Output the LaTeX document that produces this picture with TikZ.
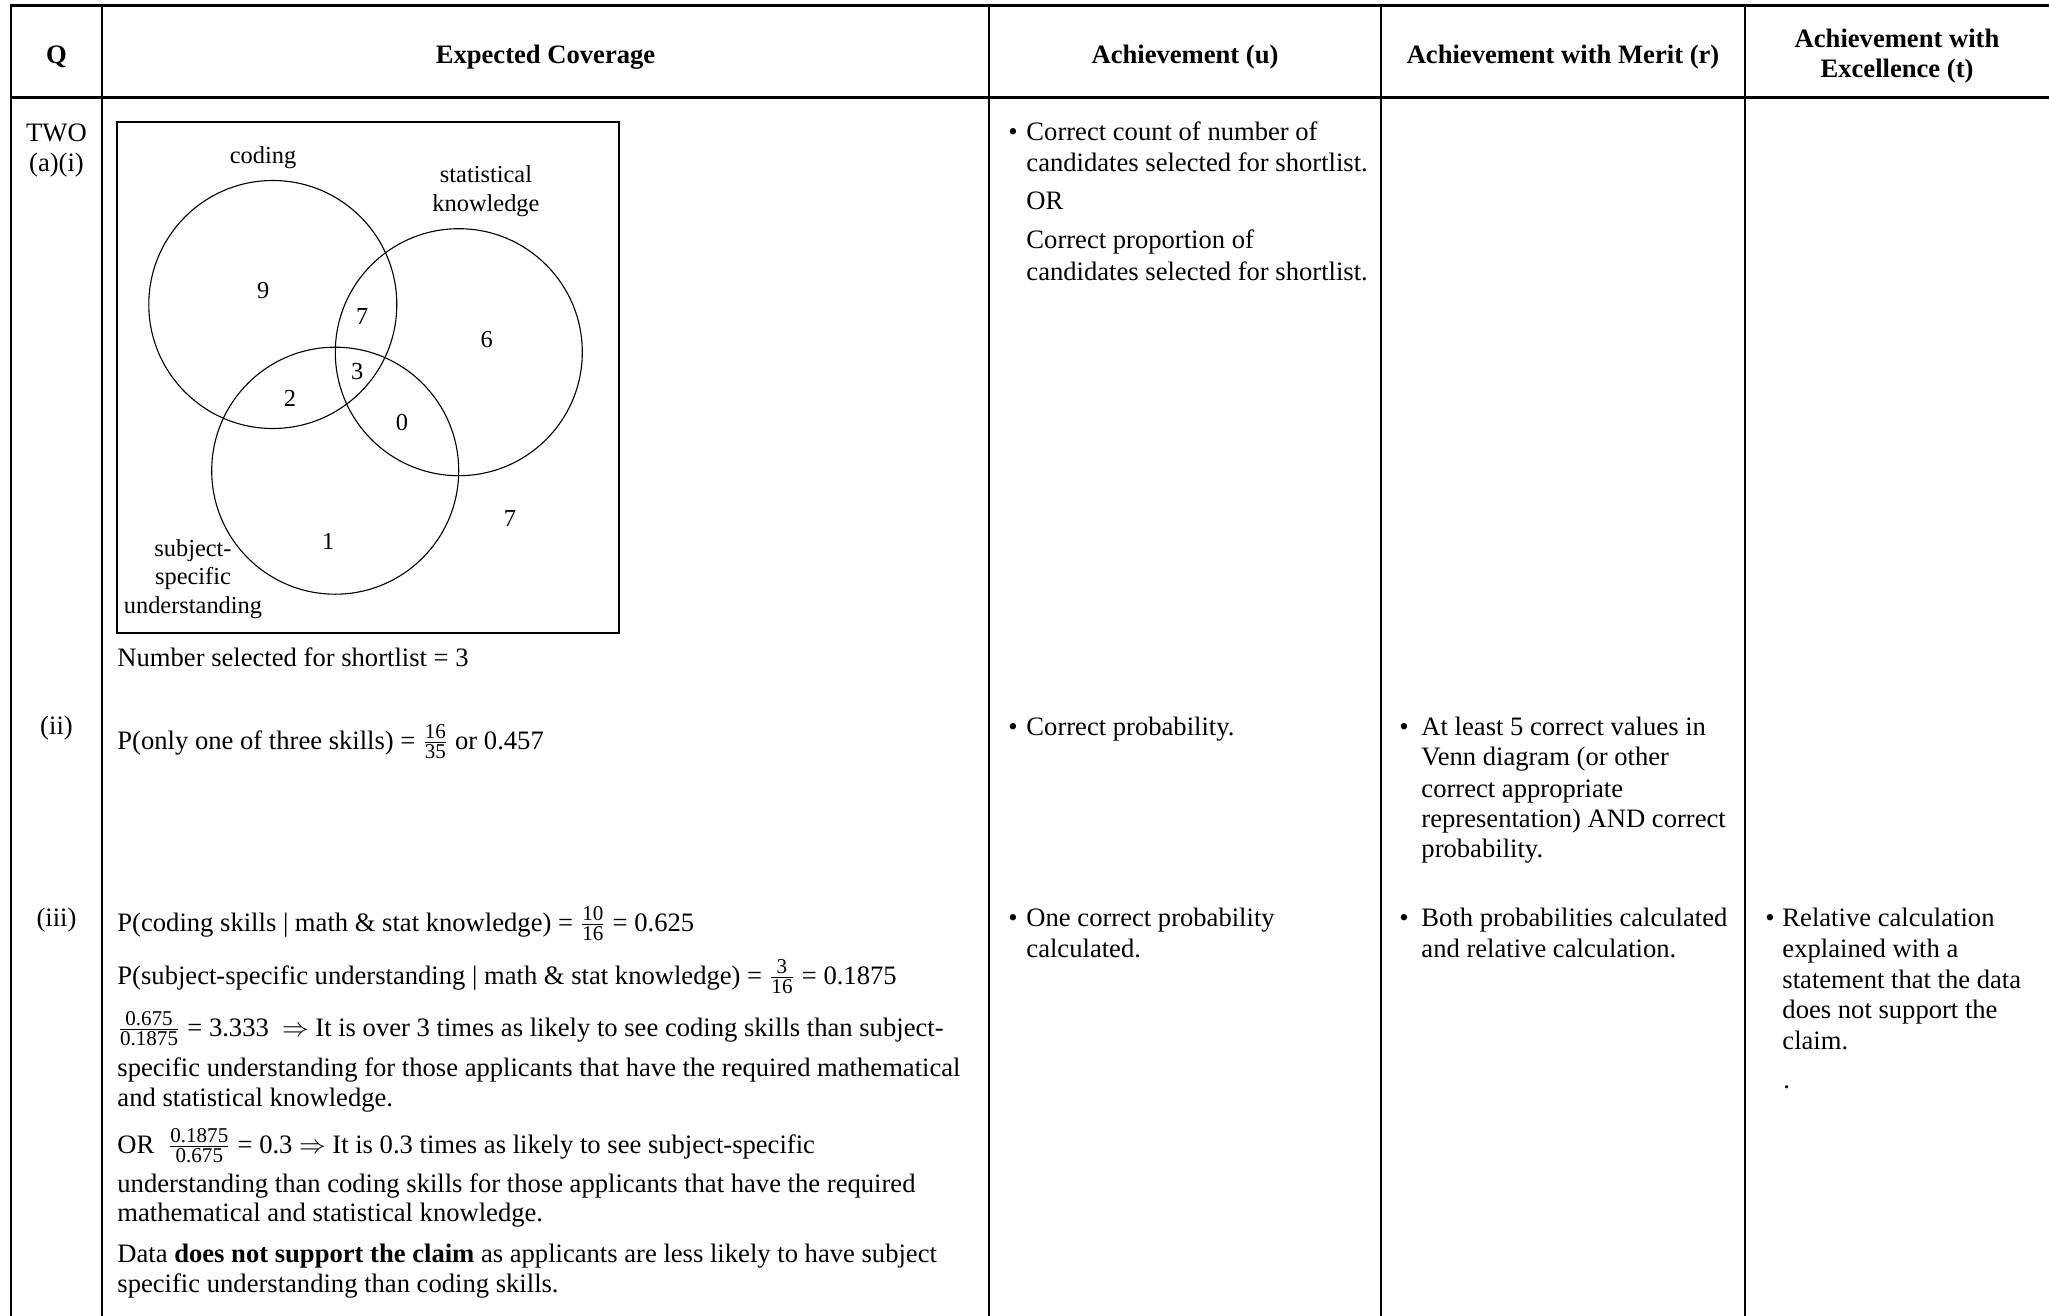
\documentclass[tikz,border=0pt,12pt]{standalone}
\usepackage{fontspec}
\setmainfont{Liberation Serif}
\newcommand\myfr[2]{$\frac{\mbox{\fontsize{9.5}{10}\selectfont #1}}{\mbox{\fontsize{9.5}{10}\selectfont #2}}$}
\begin{document}
\begin{tikzpicture}[x=0.451pt,y=-0.451pt,
  hline/.style={line width=1.35pt},
  vline/.style={line width=1.05pt},
  thin/.style={line width=0.5pt},
  body/.style={font=\fontsize{12}{14}\selectfont, inner sep=0pt, anchor=base west},
  cbody/.style={font=\fontsize{12}{14}\selectfont, inner sep=0pt, anchor=base},
  hdr/.style={font=\fontsize{12}{14}\selectfont\bfseries, inner sep=0pt, anchor=base},
  venn/.style={font=\fontsize{11}{13}\selectfont, inner sep=0pt},
]
\useasboundingbox[fill=white] (0,0) rectangle (2049,1316);

% table rules
\draw[hline] (10,6) -- (2049,6);
\draw[hline] (10,98) -- (2049,98);
\foreach \cx in {11,102,989,1381,1745}
  \draw[vline] (\cx,5) -- (\cx,1316);

% header
\node[hdr] (hQ) at (56.5,64) {Q};
\node[hdr] (hE) at (545.5,64) {Expected Coverage};
\node[hdr] (hA) at (1185,64) {Achievement (u)};
\node[hdr] (hM) at (1563,64) {Achievement with Merit (r)};
\node[hdr] (hX1) at (1897,48) {Achievement with};
\node[hdr] (hX2) at (1897,78) {Excellence (t)};

% Q column
\node[cbody] (q1) at (56.5,142) {TWO};
\node[cbody] (q2) at (56.5,172) {(a)(i)};
\node[cbody] (q3) at (56.5,734) {(ii)};
\node[cbody] (q4) at (56.5,926) {(iii)};

% Venn diagram
\draw[thin] (117,122) rectangle (619,633);
\draw[thin] (272.8,304.5) circle[radius=124];
\draw[thin] (458.8,352.2) circle[radius=123.5];
\draw[thin] (335.2,470.7) circle[radius=123.5];
\node[venn,anchor=base] (lc) at (263,164) {coding};
\node[venn,anchor=base] (ls1) at (486,183) {statistical};
\node[venn,anchor=base] (ls2) at (486,212) {knowledge};
\node[venn,anchor=base] (lu1) at (193,556) {subject-};
\node[venn,anchor=base] (lu2) at (193,584) {specific};
\node[venn,anchor=base] (lu3) at (193,613) {understanding};
\node[venn] (v9) at (263.3,291) {9};
\node[venn] (v7a) at (362.3,317) {7};
\node[venn] (v6) at (486.7,340) {6};
\node[venn] (v3) at (357.3,372) {3};
\node[venn] (v2) at (290,398) {2};
\node[venn] (v0) at (402,423) {0};
\node[venn] (v7b) at (510,519) {7};
\node[venn] (v1) at (328.3,541) {1};

% Expected coverage text
\node[body] (n1) at (117,666) {Number selected for shortlist = 3};
\node[body] (n2) at (117,749) {P(only one of three skills) = \myfr{16}{35} or 0.457};
\node[body] (e1) at (117,931) {P(coding skills | math \& stat knowledge) = \myfr{10}{16} = 0.625};
\node[body] (e2) at (117,984) {P(subject-specific understanding | math \& stat knowledge) = \myfr{3}{16} = 0.1875};
\node[body] (e3) at (117,1036) {\myfr{0.675}{0.1875} = 3.333 \ $\Rightarrow$ It is over 3 times as likely to see coding skills than subject-};
\node[body] (e4) at (117,1076) {specific understanding for those applicants that have the required mathematical};
\node[body] (e5) at (117,1106) {and statistical knowledge.};
\node[body] (e6) at (117,1153) {OR \ \myfr{0.1875}{0.675} = 0.3 $\Rightarrow$ It is 0.3 times as likely to see subject-specific};
\node[body] (e7) at (117,1192) {understanding than coding skills for those applicants that have the required};
\node[body] (e8) at (117,1221) {mathematical and statistical knowledge.};
\node[body] (e9) at (117,1262) {Data \textbf{does not support the claim} as applicants are less likely to have subject};
\node[body] (e10) at (117,1292) {specific understanding than coding skills.};

% Achievement column
\node[body] (ab1) at (1008,141) {•};
\node[body] (a1) at (1026,141) {Correct count of number of};
\node[body] (a2) at (1026,172) {candidates selected for shortlist.};
\node[body] (a3) at (1026,210) {OR};
\node[body] (a4) at (1026,249) {Correct proportion of};
\node[body] (a5) at (1026,281) {candidates selected for shortlist.};
\node[body] (ab2) at (1008,735) {•};
\node[body] (a6) at (1026,735) {Correct probability.};
\node[body] (ab3) at (1008,926) {•};
\node[body] (a7) at (1026,926) {One correct probability};
\node[body] (a8) at (1026,957) {calculated.};

% Merit column
\node[body] (mb1) at (1399,735) {•};
\node[body] (m1) at (1421,735) {At least 5 correct values in};
\node[body] (m2) at (1421,765) {Venn diagram (or other};
\node[body] (m3) at (1421,797) {correct appropriate};
\node[body] (m4) at (1421,827) {representation) AND correct};
\node[body] (m5) at (1421,857) {probability.};
\node[body] (mb2) at (1399,926) {•};
\node[body] (m6) at (1421,926) {Both probabilities calculated};
\node[body] (m7) at (1421,957) {and relative calculation.};

% Excellence column
\node[body] (xb1) at (1765,926) {•};
\node[body] (x1) at (1782,926) {Relative calculation};
\node[body] (x2) at (1782,957) {explained with a};
\node[body] (x3) at (1782,988) {statement that the data};
\node[body] (x4) at (1782,1018) {does not support the};
\node[body] (x5) at (1782,1049) {claim.};
\node[body] (x6) at (1783,1088) {.};
\end{tikzpicture}
\end{document}
